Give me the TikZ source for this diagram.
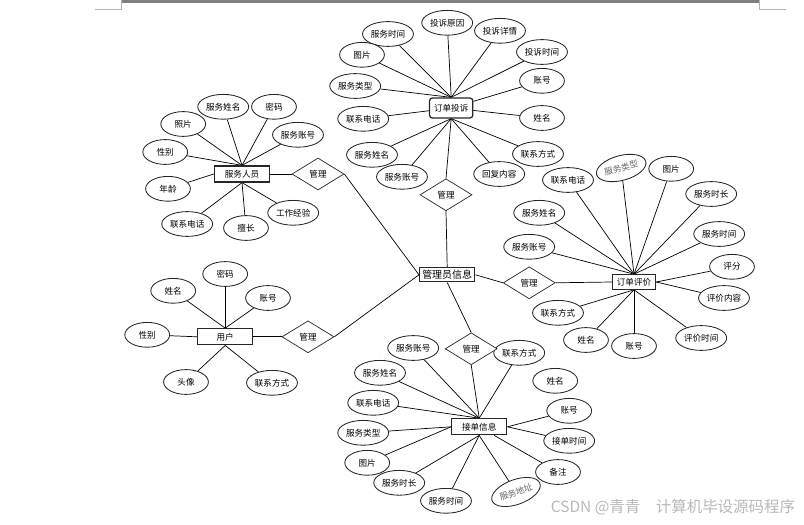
\documentclass[tikz,border=0pt]{standalone}
\usepackage{fontspec}
\newfontfamily\cjk{Noto Sans CJK SC}
\usetikzlibrary{shapes.geometric, backgrounds}
\definecolor{PageGray}{RGB}{128,128,128}

\begin{document}
\begin{tikzpicture}[font=\cjk\fontsize{6.1}{7}\selectfont]
    \tikzset{
        attr/.style={ellipse, draw=black!85, line width=0.6pt, fill=white,
            minimum width=1.12cm, minimum height=0.62cm, inner xsep=0.6pt,
            inner ysep=0pt},
        tiltattr/.style={attr, text=black!60},
        entity/.style={rectangle, draw=black!85, line width=0.9pt, fill=white,
            minimum width=1.38cm, minimum height=0.4cm, inner sep=1pt},
        relation/.style={diamond, draw=black!85, line width=0.5pt, fill=white,
            aspect=1.6, minimum width=1.3cm, minimum height=0.8cm, inner sep=0pt},
        link/.style={line width=0.5pt}
    }
    \useasboundingbox (0,0) rectangle (20.1,13.1);
    % page edge
    \fill[PageGray] (3.03,13.1) rectangle (18.98,13.02);
    \draw[black!30, line width=0.5pt] (2.38,12.87) -- (3.03,12.87) -- (3.03,13.1);
    \draw[black!30, line width=0.5pt] (18.98,13.1) -- (18.98,12.87) -- (19.65,12.87);
    % centre
    \node[entity, minimum height=0.35cm, font=\cjk\fontsize{7.1}{8}\selectfont] (admin) at (11.18,6.23) {管理员信息};
    % complaint
    \node[entity, rounded corners=2pt, minimum width=1.08cm, minimum height=0.5cm] (cmp) at (11.28,10.40) {订单投诉};
    \node[attr] (cmpreason) at (11.18,12.53) {投诉原因};
    \node[attr] (cmpstime) at (9.70,12.25) {服务时间};
    \node[attr] (cmpdetail) at (12.50,12.33) {投诉详情};
    \node[attr] (cmppic) at (9.05,11.73) {图片};
    \node[attr] (cmptime) at (13.55,11.80) {投诉时间};
    \node[attr] (cmptype) at (8.88,10.95) {服务类型};
    \node[attr] (cmpacct) at (13.55,11.08) {账号};
    \node[attr] (cmptel) at (9.08,10.13) {联系电话};
    \node[attr] (cmpname) at (13.55,10.15) {姓名};
    \node[attr] (cmpsname) at (9.30,9.23) {服务姓名};
    \node[attr] (cmpcontact) at (13.45,9.25) {联系方式};
    \node[attr] (cmpsacct) at (10.05,8.68) {服务账号};
    \node[attr] (cmpreply) at (12.48,8.75) {回复内容};
    \node[relation] (mcmp) at (11.15,8.23) {管理};
    % staff
    \node[entity] (srv) at (6.05,8.75) {服务人员};
    \node[attr] (srvname) at (5.58,10.43) {服务姓名};
    \node[attr] (srvpwd) at (6.85,10.43) {密码};
    \node[attr] (srvphoto) at (4.58,10.00) {照片};
    \node[attr] (srvacct) at (7.45,9.73) {服务账号};
    \node[attr] (srvsex) at (4.13,9.30) {性别};
    \node[attr] (srvage) at (4.20,8.38) {年龄};
    \node[attr] (srvtel) at (4.68,7.50) {联系电话};
    \node[attr] (srvskill) at (6.15,7.40) {擅长};
    \node[attr] (srvexp) at (7.33,7.78) {工作经验};
    \node[relation] (msrv) at (7.95,8.75) {管理};
    % review
    \node[entity, minimum width=1.08cm, minimum height=0.36cm] (rev) at (15.85,6.05) {订单评价};
    \node[attr] (revtel) at (14.20,8.60) {联系电话};
    \node[tiltattr, rotate=15] (revtype) at (15.53,8.90) {服务类型};
    \node[attr] (revpic) at (16.78,8.88) {图片};
    \node[attr] (revlen) at (17.78,8.25) {服务时长};
    \node[attr] (revsname) at (13.48,7.78) {服务姓名};
    \node[attr] (revstime) at (17.98,7.25) {服务时间};
    \node[attr] (revsacct) at (13.23,6.93) {服务账号};
    \node[attr] (revscore) at (18.30,6.43) {评分};
    \node[attr] (revtext) at (18.10,5.65) {评价内容};
    \node[attr] (revcontact) at (13.95,5.28) {联系方式};
    \node[attr] (revname) at (14.65,4.60) {姓名};
    \node[attr] (revacct) at (15.85,4.45) {账号};
    \node[attr] (revtime) at (17.53,4.65) {评价时间};
    \node[relation] (mrev) at (13.23,6.03) {管理};
    % user
    \node[entity] (usr) at (5.63,4.68) {用户};
    \node[attr] (usrpwd) at (5.63,6.25) {密码};
    \node[attr] (usrname) at (4.33,5.83) {姓名};
    \node[attr] (usracct) at (6.70,5.65) {账号};
    \node[attr] (usrsex) at (3.68,4.73) {性别};
    \node[attr] (usravatar) at (4.65,3.55) {头像};
    \node[attr] (usrcontact) at (6.80,3.53) {联系方式};
    \node[relation] (musr) at (7.70,4.68) {管理};
    % orders
    \node[entity] (ord) at (11.98,2.43) {接单信息};
    \node[attr] (ordsacct) at (10.33,4.40) {服务账号};
    \node[attr] (ordcontact) at (12.98,4.28) {联系方式};
    \node[attr] (ordsname) at (9.50,3.78) {服务姓名};
    \node[attr] (ordname) at (13.88,3.58) {姓名};
    \node[attr] (ordtel) at (9.33,3.03) {联系电话};
    \node[attr] (ordacct) at (14.23,2.83) {账号};
    \node[attr] (ordtype) at (9.08,2.28) {服务类型};
    \node[attr] (ordtime) at (14.23,2.08) {接单时间};
    \node[attr] (ordpic) at (9.18,1.53) {图片};
    \node[attr] (ordnote) at (13.95,1.30) {备注};
    \node[attr] (ordlen) at (9.98,1.03) {服务时长};
    \node[tiltattr, rotate=20] (ordaddr) at (12.90,0.80) {服务地址};
    \node[attr] (ordstime) at (11.15,0.58) {服务时间};
    \node[relation] (mord) at (11.78,4.38) {管理};
    % watermark
    \node[anchor=east, text=black!28, font=\cjk\fontsize{11}{13}\selectfont] (mark) at (20.0,0.43) {CSDN @青青\quad 计算机毕设源码程序};

    \begin{scope}[on background layer]
    \draw[link] (cmp.north) -- (cmpreason);
    \draw[link] (cmp.north) -- (cmpstime);
    \draw[link] (cmp.north) -- (cmpdetail);
    \draw[link] (cmp.north) -- (cmppic);
    \draw[link] (cmp.north) -- (cmptime);
    \draw[link] (cmp.north) -- (cmptype);
    \draw[link] (cmp) -- (cmpacct);
    \draw[link] (cmp) -- (cmptel);
    \draw[link] (cmp) -- (cmpname);
    \draw[link] (cmp.south) -- (cmpsname);
    \draw[link] (cmp.south) -- (cmpcontact);
    \draw[link] (cmp.south) -- (cmpsacct);
    \draw[link] (cmp.south) -- (cmpreply);
    \draw[link] (cmp.south) -- (mcmp.north);
    \draw[link] (mcmp.south) -- (admin.north);

    \draw[link] (srv.north) -- (srvname);
    \draw[link] (srv.north) -- (srvpwd);
    \draw[link] (srv.north) -- (srvphoto);
    \draw[link] (srv.north) -- (srvacct);
    \draw[link] (srv.north) -- (srvsex);
    \draw[link] (srv.west) -- (srvage);
    \draw[link] (srv.south) -- (srvtel);
    \draw[link] (srv.south) -- (srvskill);
    \draw[link] (srv.south) -- (srvexp);
    \draw[link] (srv.east) -- (msrv.west);
    \draw[link] (msrv.east) -- (admin.west);

    \draw[link] (rev.north) -- (revtel);
    \draw[link] (rev.north) -- (revtype);
    \draw[link] (rev.north) -- (revpic);
    \draw[link] (rev.north) -- (revlen);
    \draw[link] (rev.north) -- (revsname);
    \draw[link] (rev.north) -- (revstime);
    \draw[link] (rev.north) -- (revsacct);
    \draw[link] (rev.east) -- (revscore);
    \draw[link] (rev.east) -- (revtext);
    \draw[link] (rev.south) -- (revcontact);
    \draw[link] (rev.south) -- (revname);
    \draw[link] (rev.south) -- (revacct);
    \draw[link] (rev.south) -- (revtime);
    \draw[link] (rev.west) -- (mrev.east);
    \draw[link] (mrev.west) -- (admin.east);

    \draw[link] (usr.north) -- (usrpwd);
    \draw[link] (usr.north) -- (usrname);
    \draw[link] (usr.north) -- (usracct);
    \draw[link] (usr.west) -- (usrsex);
    \draw[link] (usr.south) -- (usravatar);
    \draw[link] (usr.south) -- (usrcontact);
    \draw[link] (usr.east) -- (musr.west);
    \draw[link] (musr.east) -- (admin.west);

    \draw[link] (ord.north) -- (ordsacct);
    \draw[link] (ord.north) -- (ordcontact);
    \draw[link] (ord.north) -- (ordsname);
    \draw[link] (ord.north) -- (ordtel);
    \draw[link] (ord.west) -- (ordtype);
    \draw[link] (ord.west) -- (ordpic);
    \draw[link] (ord.east) -- (ordacct);
    \draw[link] (ord.east) -- (ordtime);
    \draw[link] (ord) -- (ordnote);
    \draw[link] (ord.south) -- (ordlen);
    \draw[link] (ord.south) -- (ordaddr);
    \draw[link] (ord.south) -- (ordstime);
    \draw[link] (ord.north) -- (mord.south);
    \draw[link] (mord.north) -- (admin.south);
    \end{scope}
\end{tikzpicture}
\end{document}
